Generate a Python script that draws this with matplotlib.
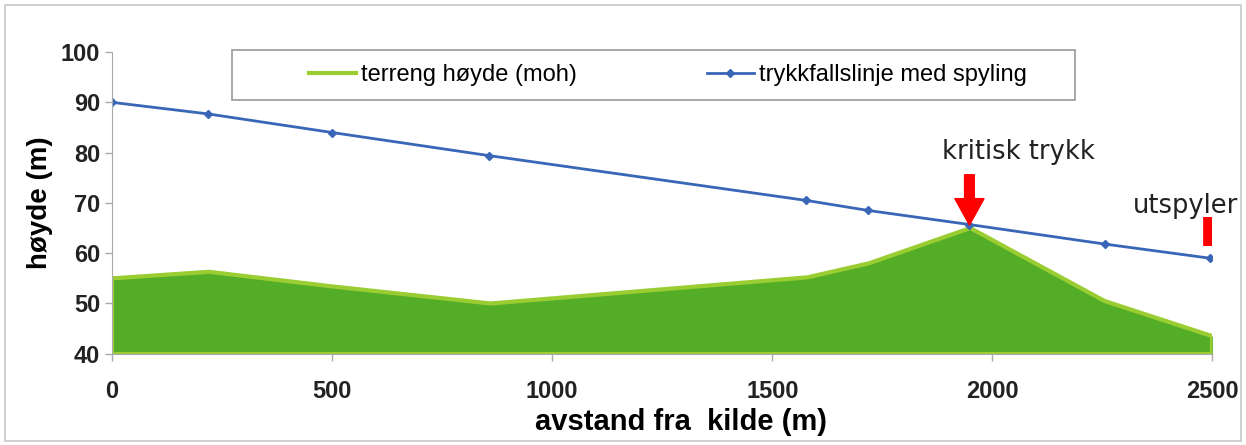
import matplotlib
matplotlib.use("Agg")
from matplotlib import pyplot as plt
from matplotlib.patches import Rectangle

# terreng og trykkfallslinje
terreng_x = [0, 220, 500, 860, 1580, 1720, 1950, 2255, 2500]
terreng_y = [55.0, 56.3, 53.4, 50.0, 55.2, 58.0, 65.0, 50.5, 43.5]

trykk_x = [0, 218, 500, 857, 1577, 1718, 1948, 2257, 2495]
trykk_y = [90.0, 87.7, 84.0, 79.4, 70.5, 68.5, 65.7, 61.8, 59.0]

kritisk_x = 1948
utspyler_x = 2489

plt.rcParams['font.family'] = ['Liberation Sans', 'DejaVu Sans']

fig = plt.figure(figsize=(12.46, 4.45), dpi=100)
ax = fig.add_axes([0.09, 0.205, 0.883, 0.678])

# ramme rundt hele figuren
fig.patches.append(Rectangle((0.004, 0.01), 0.992, 0.978, transform=fig.transFigure,
                             fill=False, edgecolor='#c8c8c8', linewidth=1.2))

ax.fill_between(terreng_x, 40, terreng_y, color='#54ad26', linewidth=0)
ax.plot(terreng_x, terreng_y, color='#9acd32', linewidth=3, label='terreng høyde (moh)')
ax.plot([0, 0], [40, terreng_y[0]], color='#9acd32', linewidth=3)
ax.plot([terreng_x[-1]] * 2, [40, terreng_y[-1]], color='#9acd32', linewidth=3)
ax.plot([0, terreng_x[-1]], [40, 40], color='#9acd32', linewidth=3)

ax.plot(trykk_x, trykk_y, color='#3a66b8', linewidth=2, marker='D', markersize=4,
        label='trykkfallslinje med spyling')

# kritisk trykk pil
ax.annotate('', xy=(kritisk_x, 65.6), xytext=(kritisk_x, 75.6),
            arrowprops=dict(facecolor='red', edgecolor='red', width=7, headwidth=21, headlength=19))
ax.text(2060, 77.5, 'kritisk trykk', ha='center', va='bottom', fontsize=18.5,
        color='#222222', family=['DejaVu Sans'])
ax.plot([utspyler_x, utspyler_x], [61.5, 67.2], color='red', linewidth=7, solid_capstyle='butt')
ax.text(2440, 66.8, 'utspyler', ha='center', va='bottom', fontsize=18.5,
        color='#222222', family=['DejaVu Sans'])

ax.set_xlim(0, 2500)
ax.set_ylim(40, 100)
ax.set_xticks([0, 500, 1000, 1500, 2000, 2500])
ax.set_yticks([40, 50, 60, 70, 80, 90, 100])
ax.tick_params(axis='both', labelsize=17, color='#aaaaaa', labelcolor='#222222', length=5, width=1)
ax.tick_params(axis='x', pad=14)
for lbl in ax.get_xticklabels() + ax.get_yticklabels():
    lbl.set_fontweight('bold')
for s in ['top', 'right']:
    ax.spines[s].set_visible(False)
for s in ['left', 'bottom']:
    ax.spines[s].set_color('#aaaaaa')

ax.set_xlabel('avstand fra  kilde (m)', fontsize=21, fontweight='bold', labelpad=0)
ax.xaxis.set_label_coords(0.517, -0.18)
ax.set_ylabel('høyde (m)', fontsize=20, fontweight='bold', labelpad=6)

# legende med egen ramme
ax.add_patch(Rectangle((0.109, 0.841), 0.7665, 0.1656, transform=ax.transAxes, fill=False,
                       edgecolor='#999999', linewidth=1.2, clip_on=False))
leg = ax.legend(loc='center', bbox_to_anchor=(0.505, 0.924), ncol=2, fontsize=17,
                frameon=False, handlelength=2.0, handletextpad=0.2, columnspacing=5.5)

fig.savefig('out.png', dpi=100)
